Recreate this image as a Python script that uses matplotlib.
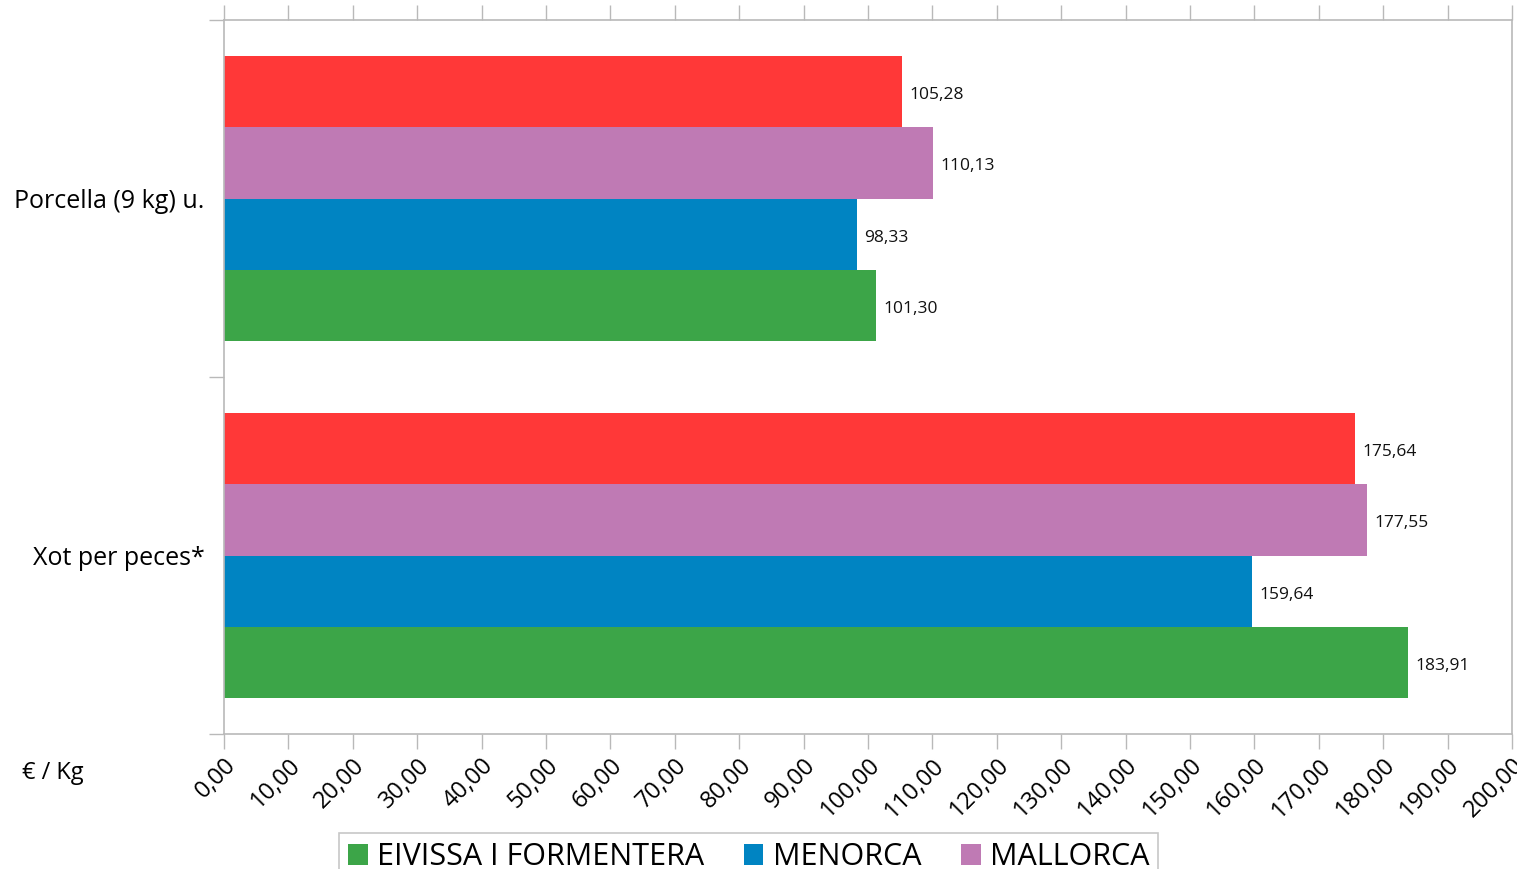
import numpy as np
import matplotlib.pyplot as plt
from matplotlib.patches import Patch

plt.rcParams['font.family'] = ['Open Sans', 'DejaVu Sans']

# ---------- Data ----------

categories = ["Porcella (9 kg) u.", "Xot per peces*"]
series_names = ["", "MALLORCA", "MENORCA", "EIVISSA I FORMENTERA"]
series_colors = ["#ff3838", "#bf7ab4", "#0084c2", "#3ca548"]
values = [
    [105.28, 175.64],
    [110.13, 177.55],
    [98.33, 159.64],
    [101.30, 183.91],
]
x_ticks = np.arange(0, 201, 10)
x_ticklabels = [f"{v:.2f}".replace(".", ",") for v in x_ticks]

# ---------- Plot ----------

grey = "#b9b9b9"
fig = plt.figure(figsize=(15.17, 8.69), dpi=100)
ax = fig.add_axes([224/1517, 1 - 734/869, (1512 - 224)/1517, (734 - 20)/869])

bar_h = 0.2
y = np.arange(len(categories))
for i, (vals, col) in enumerate(zip(values, series_colors)):
    pos = y - 0.3 + i * bar_h
    ax.barh(pos, vals, height=bar_h, color=col, linewidth=0)
    for p, v in zip(pos, vals):
        ax.text(v + 1.1, p + 0.01, f"{v:.2f}".replace(".", ","), va="center", ha="left",
                fontsize=12.5, color="#111111")

ax.set_xlim(0, 200)
ax.set_ylim(1.5, -0.5)

ax.set_xticks(x_ticks)
ax.set_xticklabels(x_ticklabels, rotation=45, ha="right", rotation_mode="anchor",
                   fontsize=17)
ax.tick_params(axis="x", which="major", direction="out", length=11, width=1,
               color=grey, top=True, pad=3)

ax.set_yticks([-0.5, 0.5, 1.5])
ax.set_yticklabels([])
ax.set_yticks(y, minor=True)
ax.set_yticklabels(categories, minor=True, fontsize=18)
ax.tick_params(axis="y", which="major", direction="out", length=11, width=1, color=grey)
ax.tick_params(axis="y", which="minor", length=0, pad=14)

for s in ax.spines.values():
    s.set_color(grey)
    s.set_linewidth(1.2)

fig.text(22/1517, 1 - 773/869, "€ / Kg", fontsize=17, va="center", ha="left")

handles = [Patch(facecolor=series_colors[i], edgecolor="none", label=series_names[i])
           for i in (3, 2, 1)]
leg = fig.legend(handles=handles, loc="upper center", bbox_to_anchor=(748.5/1517, 1 - 833/869),
                 ncol=3, fontsize=22, frameon=True, fancybox=False, edgecolor=grey,
                 handlelength=0.65, handleheight=0.65, handletextpad=0.3, columnspacing=1.3,
                 borderpad=0.3, borderaxespad=0)
leg.get_frame().set_linewidth(1.2)

fig.savefig("out.png", dpi=100)
